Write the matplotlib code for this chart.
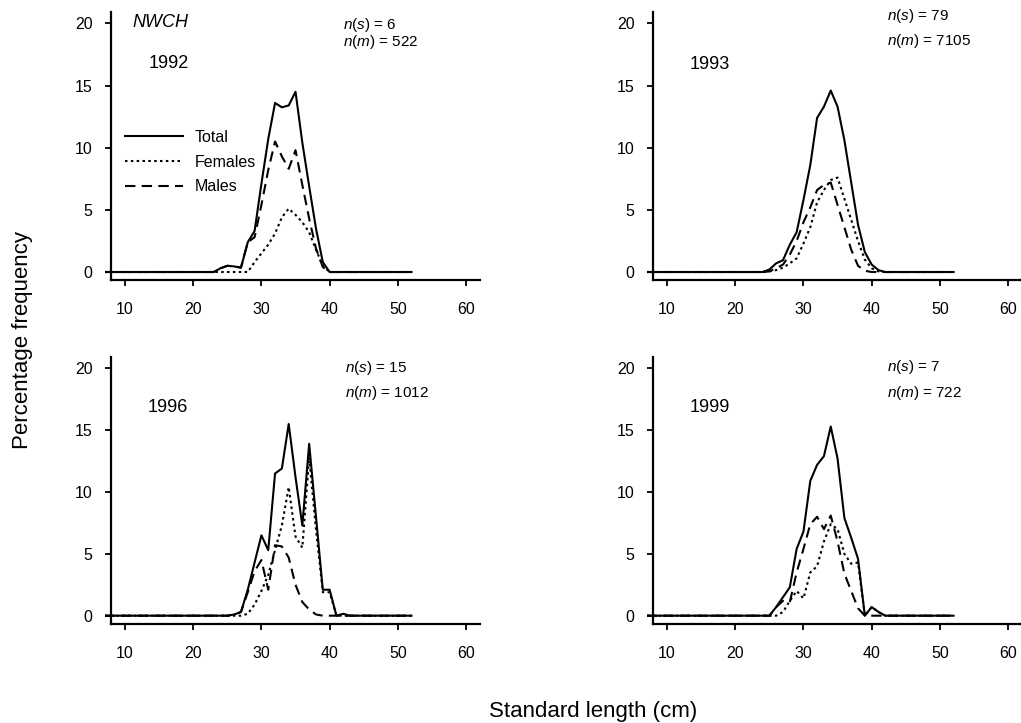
import numpy as np
import matplotlib
matplotlib.use("Agg")
import matplotlib.pyplot as plt
from matplotlib.lines import Line2D

plt.rcParams['font.family'] = ['Liberation Sans', 'DejaVu Sans']
plt.rcParams['mathtext.fontset'] = 'custom'
plt.rcParams['mathtext.it'] = 'Liberation Sans:italic'
plt.rcParams['mathtext.rm'] = 'Liberation Sans'

# Standard length classes (cm), 7..52
lengths = list(range(7, 53))

Z16 = [0] * 16   # 7..22
Z8 = [0] * 8     # 45..52

# values for 23..44
total_1992 = Z16 + [0, 0.3, 0.5, 0.45, 0.35, 2.4, 3.3, 7.1, 10.7, 13.6, 13.25, 13.4, 14.5, 10.4, 6.9, 3.5, 0.8, 0, 0, 0, 0, 0] + Z8
females_1992 = Z16 + [0, 0, 0, 0, 0, 0, 0.8, 1.5, 2.2, 3.1, 4.4, 5.1, 4.6, 4.0, 3.2, 1.8, 0.5, 0, 0, 0, 0, 0] + Z8
males_1992 = Z16 + [0, 0.3, 0.5, 0.45, 0.35, 2.4, 2.8, 5.4, 8.2, 10.5, 9.3, 8.3, 9.8, 7.0, 4.3, 1.9, 0.4, 0, 0, 0, 0, 0] + Z8

total_1993 = Z16 + [0, 0, 0.2, 0.7, 0.95, 2.2, 3.2, 5.8, 8.6, 12.4, 13.3, 14.6, 13.3, 10.6, 7.2, 3.8, 1.6, 0.6, 0.15, 0, 0, 0] + Z8
females_1993 = Z16 + [0, 0, 0.05, 0.15, 0.35, 0.7, 1.1, 2.3, 3.6, 5.6, 6.6, 7.4, 7.6, 5.9, 4.2, 2.5, 1.0, 0.3, 0.05, 0, 0, 0] + Z8
males_1993 = Z16 + [0, 0, 0.05, 0.3, 0.6, 1.4, 2.5, 4.0, 5.2, 6.6, 7.0, 7.2, 5.4, 3.6, 1.8, 0.5, 0.1, 0, 0, 0, 0, 0] + Z8

total_1996 = Z16 + [0, 0, 0, 0.1, 0.3, 2.1, 4.3, 6.5, 5.3, 11.5, 11.9, 15.5, 11.2, 7.3, 13.9, 8.0, 2.1, 2.1, 0, 0.15, 0, 0] + Z8
females_1996 = Z16 + [0, 0, 0, 0, 0, 0.15, 0.9, 2.0, 3.3, 5.3, 7.3, 10.4, 6.4, 5.5, 12.8, 7.0, 1.9, 1.9, 0, 0, 0, 0] + Z8
males_1996 = Z16 + [0, 0, 0, 0.1, 0.3, 1.9, 3.6, 4.5, 2.1, 5.7, 5.6, 4.7, 2.5, 1.1, 0.5, 0.1, 0, 0, 0, 0, 0, 0] + Z8

total_1999 = Z16 + [0, 0, 0, 0.7, 1.5, 2.3, 5.4, 6.8, 10.9, 12.2, 12.9, 15.3, 12.7, 7.9, 6.3, 4.6, 0, 0.7, 0.3, 0, 0, 0] + Z8
females_1999 = Z16 + [0, 0, 0, 0, 0.3, 1.2, 2.0, 1.4, 3.5, 4.0, 6.0, 7.4, 7.0, 5.0, 4.2, 4.3, 0, 0.7, 0.3, 0, 0, 0] + Z8
males_1999 = Z16 + [0, 0, 0, 0.7, 1.2, 1.1, 3.5, 5.4, 7.4, 8.0, 7.0, 8.1, 6.0, 3.4, 2.0, 0.6, 0, 0, 0, 0, 0, 0] + Z8

years = ["1992", "1993", "1996", "1999"]
n_samples = ["6", "79", "15", "7"]
n_measured = ["522", "7105", "1012", "722"]
series = [
    (total_1992, females_1992, males_1992),
    (total_1993, females_1993, males_1993),
    (total_1996, females_1996, males_1996),
    (total_1999, females_1999, males_1999),
]
x_ticks = [10, 20, 30, 40, 50, 60]
y_ticks = [0, 5, 10, 15, 20]

fig = plt.figure(figsize=(10.21, 7.23), dpi=100)

boxes = [
    (0.1024, 0.6126, 0.3674, 0.3705),
    (0.6333, 0.6126, 0.3674, 0.3705),
    (0.1024, 0.1373, 0.3674, 0.3686),
    (0.6333, 0.1373, 0.3674, 0.3686),
]
year_pos = [(13.4, 16.8), (13.3, 16.7), (13.3, 16.85), (13.3, 16.8)]
ns_pos = [(41.9, 19.9), (42.3, 20.6), (42.2, 20.0), (42.3, 20.1)]
nm_pos = [(41.9, 18.5), (42.3, 18.6), (42.2, 18.0), (42.3, 18.0)]

solid_style = dict(color='black', lw=1.5, linestyle='-')
dot_style = dict(color='black', lw=1.5, linestyle=(0, (1.2, 1.6)))
dash_style = dict(color='black', lw=1.5, linestyle=(0, (5, 3)))

for i, box in enumerate(boxes):
    ax = fig.add_axes(box)
    tot, fem, mal = series[i]
    ax.plot(lengths, tot, **solid_style)
    ax.plot(lengths, fem, **dot_style)
    ax.plot(lengths, mal, **dash_style)
    ax.set_xlim(7, 62)
    ax.set_ylim(-0.65, 20.9)
    ax.spines['top'].set_visible(False)
    ax.spines['right'].set_visible(False)
    ax.spines['left'].set_position(('data', 8))
    ax.spines['bottom'].set_bounds(8, 62)
    for s in ('left', 'bottom'):
        ax.spines[s].set_linewidth(1.6)
    ax.set_xticks(x_ticks)
    ax.set_yticks(y_ticks)
    ax.tick_params(axis='both', direction='out', length=4.5, width=1.3, labelsize=11.5)
    ax.tick_params(axis='y', pad=9)
    ax.tick_params(axis='x', pad=11.5)
    ax.patch.set_visible(False)

    ax.text(year_pos[i][0], year_pos[i][1], years[i], fontsize=13, ha='left', va='center')
    ax.text(ns_pos[i][0], ns_pos[i][1], r'$n(s)$ = ' + n_samples[i], fontsize=11, ha='left', va='center')
    ax.text(nm_pos[i][0], nm_pos[i][1], r'$n(m)$ = ' + n_measured[i], fontsize=11, ha='left', va='center')

    if i == 0:
        ax.text(11.1, 20.1, 'NWCH', fontsize=13, style='italic', ha='left', va='center')
        handles = [Line2D([], [], **solid_style), Line2D([], [], **dot_style), Line2D([], [], **dash_style)]
        fig.legend(handles, ['Total', 'Females', 'Males'], loc='upper left',
                   bbox_to_anchor=(125 / 1021, 1 - 130 / 723), bbox_transform=fig.transFigure,
                   frameon=False, fontsize=11.5, handlelength=3.6, handletextpad=0.75,
                   labelspacing=0.6, borderpad=0, borderaxespad=0)

fig.text(0.022, 0.53, 'Percentage frequency', rotation=90, fontsize=16, ha='center', va='center')
fig.text(0.581, 0.008, 'Standard length (cm)', fontsize=16, ha='center', va='baseline')

fig.savefig('out.png', dpi=100)
